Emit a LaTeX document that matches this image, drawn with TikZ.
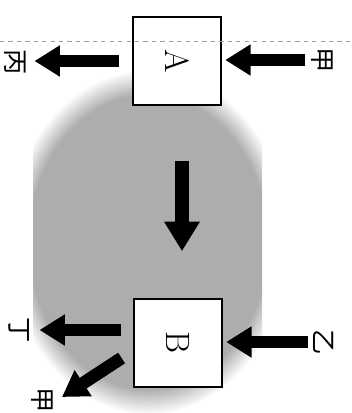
\documentclass[tikz,border=0pt]{standalone}
\usepackage{fontspec}
\newfontfamily\cjk{Noto Sans CJK SC}
\usetikzlibrary{arrows.meta,fadings}
\begin{document}
\begin{tikzpicture}[x=0.025cm,y=-0.025cm,
  box/.style={draw, line width=2pt, fill=white, minimum size=2.2cm, inner sep=0pt, font=\fontsize{24}{24}\selectfont},
  lab/.style={inner sep=0pt, font=\cjk\fontsize{18}{18}\selectfont},
  fat/.style={line width=9pt, -{Triangle[width=21pt,length=18pt]}},
  fatter/.style={line width=10.5pt, -{Triangle[width=24pt,length=21pt]}},
]
\useasboundingbox (0,0) rectangle (351,413);
\begin{scope}
\clip (33,60) rectangle (262,413);
\fill[black!32, path fading=circle with fuzzy edge 15 percent] (148,242) ellipse [x radius=140, y radius=172];
\end{scope}
\node[box] (A) at (177,61) {\rotatebox{-90}{A}};
\node[box] (B) at (178,343) {\rotatebox{-90}{B}};
\draw[gray!75, dashed, line width=0.6pt] (0,41) -- (351,41);
\node[lab] (j1) at (322,60) {\rotatebox{-90}{甲}};
\node[lab] (bing) at (15,62) {\rotatebox{-90}{丙}};
\node[lab] (yi) at (324,342) {\rotatebox{-90}{乙}};
\node[lab] (ding) at (19,330) {\rotatebox{-90}{丁}};
\node[lab] (j2) at (42,400) {\rotatebox{-90}{甲}};
\draw[fat, shorten <=4pt, shorten >=2pt] (j1.west) -- (j1.west -| A.east);
\draw[fat, shorten <=9pt, shorten >=6pt] (A.west) -- (A.west -| bing.east);
\draw[fat, shorten <=4pt, shorten >=2pt] (yi.west) -- (yi.west -| B.east);
\draw[fat, shorten <=8.5pt, shorten >=7pt] (ding.east -| B.west) -- (ding.east);
\draw[fat] ([shift={(-11,15)}]B.west) -- ([shift={(20,-3)}]j2.center);
\draw[fatter, shorten <=39pt, shorten >=33pt] ([shift={(5,0)}]A.south) -- ([shift={(4,0)}]B.north);
\end{tikzpicture}
\end{document}
